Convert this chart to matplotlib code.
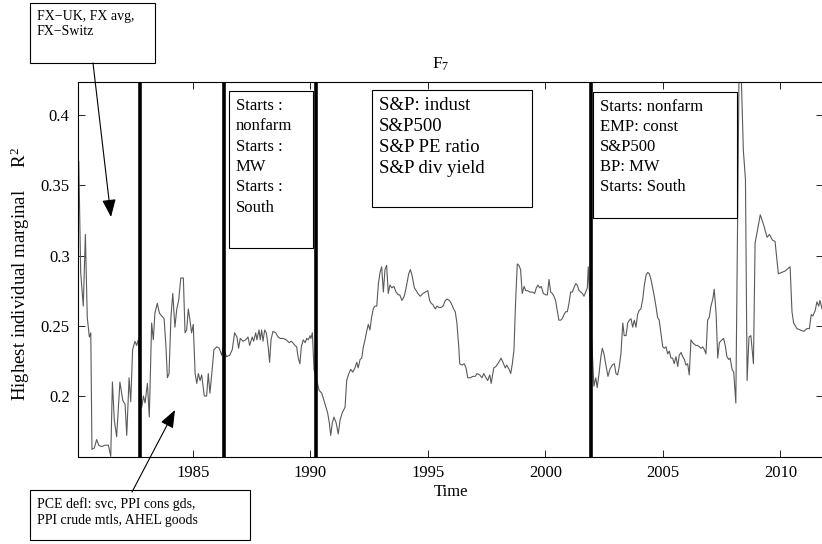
import matplotlib
matplotlib.use("Agg")
import matplotlib.pyplot as plt
from matplotlib.patches import Rectangle, FancyArrowPatch

plt.rcParams['font.family'] = ['Liberation Serif', 'DejaVu Serif']
plt.rcParams['mathtext.fontset'] = 'custom'
plt.rcParams['mathtext.rm'] = 'Liberation Serif'
plt.rcParams['mathtext.it'] = 'Liberation Serif:italic'

# traced series: time (years) and highest marginal R^2
t = [1980.14, 1980.22, 1980.33, 1980.42, 1980.50, 1980.59, 1980.65, 1980.70, 1980.80, 1980.90,
     1980.99, 1981.11, 1981.26, 1981.40, 1981.50, 1981.57, 1981.65, 1981.75, 1981.89, 1982.01,
     1982.11, 1982.18, 1982.28, 1982.35, 1982.43, 1982.53, 1982.60, 1982.67,
     1982.82, 1982.89, 1982.96, 1983.06, 1983.14, 1983.24, 1983.31, 1983.38, 1983.48, 1983.57,
     1983.67, 1983.77, 1983.85, 1983.91, 1983.98, 1984.06, 1984.14, 1984.23, 1984.31, 1984.39,
     1984.48, 1984.59, 1984.66, 1984.73, 1984.80, 1984.87, 1984.94, 1985.01, 1985.09, 1985.16,
     1985.23, 1985.30, 1985.37, 1985.48, 1985.58, 1985.65, 1985.72, 1985.80, 1985.89, 1986.01,
     1986.12, 1986.22, 1986.29,
     1986.42, 1986.56, 1986.67, 1986.77, 1986.87, 1986.94, 1987.01, 1987.13, 1987.24, 1987.34,
     1987.41, 1987.52, 1987.58, 1987.67, 1987.72, 1987.81, 1987.86, 1987.92, 1987.98, 1988.05,
     1988.12, 1988.20, 1988.26, 1988.32, 1988.40, 1988.52, 1988.62, 1988.71, 1988.83, 1988.97,
     1989.09, 1989.18, 1989.24, 1989.34, 1989.41, 1989.48, 1989.55, 1989.61, 1989.69, 1989.77,
     1989.84, 1989.91, 1989.98, 1990.02, 1990.08, 1990.15,
     1990.37, 1990.48, 1990.57, 1990.66, 1990.73, 1990.80, 1990.86, 1990.93, 1991.00, 1991.09,
     1991.18, 1991.26, 1991.35, 1991.47, 1991.54, 1991.61, 1991.71, 1991.80, 1991.89, 1991.97,
     1992.03, 1992.11, 1992.18, 1992.25, 1992.32, 1992.39, 1992.46, 1992.53, 1992.60, 1992.67,
     1992.74, 1992.82, 1992.89, 1992.96, 1993.03, 1993.10, 1993.17, 1993.24, 1993.31, 1993.38,
     1993.46, 1993.55, 1993.64, 1993.74, 1993.80, 1993.89, 1993.99, 1994.08, 1994.18, 1994.25,
     1994.32, 1994.42, 1994.50, 1994.57, 1994.67, 1994.79, 1994.89, 1994.99, 1995.07, 1995.14,
     1995.21, 1995.31, 1995.38, 1995.47, 1995.55, 1995.64, 1995.74, 1995.81, 1995.91, 1995.99,
     1996.09, 1996.16, 1996.23, 1996.31, 1996.35, 1996.45, 1996.54, 1996.62, 1996.69, 1996.80,
     1996.91, 1997.01, 1997.09, 1997.20, 1997.30, 1997.37, 1997.44, 1997.54, 1997.63, 1997.69,
     1997.80, 1997.89, 1998.01, 1998.11, 1998.19, 1998.29, 1998.35, 1998.45, 1998.52, 1998.59,
     1998.66, 1998.73, 1998.80, 1998.87, 1998.94, 1999.01, 1999.09, 1999.16, 1999.23, 1999.34,
     1999.44, 1999.54, 1999.61, 1999.68, 1999.75, 1999.82, 1999.91, 2000.01, 2000.08, 2000.15,
     2000.22, 2000.29, 2000.36, 2000.43, 2000.50, 2000.57, 2000.65, 2000.71, 2000.79, 2000.86,
     2000.93, 2001.00, 2001.07, 2001.14, 2001.21, 2001.29, 2001.35, 2001.43, 2001.50, 2001.57,
     2001.64, 2001.71, 2001.78, 2001.82,
     2002.06, 2002.14, 2002.20, 2002.28, 2002.35, 2002.42, 2002.49, 2002.56, 2002.66, 2002.74,
     2002.84, 2002.93, 2003.00, 2003.07, 2003.14, 2003.21, 2003.29, 2003.35, 2003.43, 2003.50,
     2003.57, 2003.64, 2003.71, 2003.78, 2003.85, 2003.92, 2003.99, 2004.06, 2004.14, 2004.20,
     2004.28, 2004.35, 2004.42, 2004.49, 2004.56, 2004.63, 2004.70, 2004.77, 2004.84, 2004.91,
     2004.99, 2005.06, 2005.13, 2005.20, 2005.27, 2005.34, 2005.41, 2005.48, 2005.55, 2005.63,
     2005.69, 2005.77, 2005.84, 2005.91, 2005.98, 2006.05, 2006.12, 2006.19, 2006.26, 2006.33,
     2006.40, 2006.48, 2006.55, 2006.62, 2006.69, 2006.76, 2006.83, 2006.90, 2006.97, 2007.04,
     2007.12, 2007.18, 2007.26, 2007.33, 2007.40, 2007.51, 2007.58, 2007.65, 2007.72, 2007.80,
     2007.86, 2007.94, 2008.01, 2008.10, 2008.26, 2008.42, 2008.51, 2008.58, 2008.66, 2008.74,
     2008.85, 2008.92, 2009.00, 2009.14, 2009.28, 2009.43, 2009.53, 2009.66, 2009.77, 2009.91,
     2010.06, 2010.20, 2010.41, 2010.49, 2010.56, 2010.70, 2010.84, 2010.99, 2011.13, 2011.23,
     2011.31, 2011.38, 2011.48, 2011.55, 2011.63, 2011.68, 2011.77]
r2 = [0.367, 0.288, 0.264, 0.315, 0.256, 0.242, 0.245, 0.162, 0.163, 0.169,
      0.165, 0.164, 0.165, 0.165, 0.157, 0.210, 0.183, 0.171, 0.210, 0.197,
      0.194, 0.172, 0.213, 0.196, 0.233, 0.239, 0.236, 0.240,
      0.192, 0.200, 0.195, 0.209, 0.185, 0.252, 0.240, 0.259, 0.266, 0.259,
      0.257, 0.255, 0.235, 0.213, 0.216, 0.256, 0.273, 0.249, 0.262, 0.268,
      0.284, 0.284, 0.245, 0.247, 0.262, 0.254, 0.245, 0.251, 0.216, 0.209,
      0.216, 0.211, 0.215, 0.200, 0.200, 0.216, 0.202, 0.216, 0.233, 0.235,
      0.234, 0.229, 0.235,
      0.228, 0.229, 0.233, 0.245, 0.242, 0.234, 0.241, 0.239, 0.240, 0.242,
      0.236, 0.242, 0.239, 0.245, 0.240, 0.247, 0.240, 0.247, 0.239, 0.247,
      0.245, 0.235, 0.224, 0.240, 0.246, 0.245, 0.242, 0.241, 0.241, 0.240,
      0.238, 0.239, 0.238, 0.236, 0.235, 0.227, 0.223, 0.235, 0.240, 0.238,
      0.241, 0.240, 0.243, 0.241, 0.245, 0.219,
      0.204, 0.202, 0.197, 0.192, 0.188, 0.181, 0.172, 0.181, 0.185, 0.181,
      0.173, 0.183, 0.188, 0.192, 0.211, 0.215, 0.219, 0.217, 0.220, 0.224,
      0.220, 0.226, 0.227, 0.235, 0.240, 0.246, 0.251, 0.247, 0.256, 0.262,
      0.264, 0.264, 0.280, 0.288, 0.292, 0.274, 0.290, 0.293, 0.273, 0.279,
      0.277, 0.278, 0.274, 0.272, 0.272, 0.268, 0.271, 0.278, 0.287, 0.290,
      0.286, 0.277, 0.275, 0.273, 0.271, 0.273, 0.274, 0.275, 0.268, 0.266,
      0.265, 0.262, 0.264, 0.263, 0.263, 0.264, 0.268, 0.269, 0.268, 0.266,
      0.262, 0.260, 0.252, 0.235, 0.223, 0.222, 0.223, 0.220, 0.213, 0.213,
      0.214, 0.214, 0.216, 0.215, 0.213, 0.216, 0.214, 0.211, 0.215, 0.209,
      0.220, 0.221, 0.224, 0.227, 0.224, 0.220, 0.222, 0.219, 0.216, 0.223,
      0.233, 0.268, 0.294, 0.293, 0.290, 0.273, 0.278, 0.275, 0.275, 0.274,
      0.274, 0.273, 0.277, 0.279, 0.277, 0.278, 0.273, 0.272, 0.272, 0.283,
      0.274, 0.273, 0.271, 0.268, 0.261, 0.254, 0.254, 0.255, 0.258, 0.260,
      0.260, 0.266, 0.274, 0.274, 0.277, 0.280, 0.279, 0.275, 0.274, 0.273,
      0.271, 0.274, 0.277, 0.292,
      0.207, 0.213, 0.206, 0.216, 0.227, 0.234, 0.230, 0.223, 0.214, 0.219,
      0.222, 0.223, 0.216, 0.215, 0.221, 0.230, 0.252, 0.243, 0.243, 0.252,
      0.254, 0.255, 0.249, 0.254, 0.249, 0.258, 0.261, 0.262, 0.269, 0.278,
      0.286, 0.288, 0.287, 0.283, 0.277, 0.271, 0.264, 0.256, 0.254, 0.245,
      0.235, 0.234, 0.235, 0.230, 0.232, 0.227, 0.227, 0.223, 0.228, 0.221,
      0.229, 0.231, 0.228, 0.226, 0.222, 0.223, 0.215, 0.240, 0.238, 0.237,
      0.236, 0.236, 0.235, 0.234, 0.235, 0.233, 0.230, 0.254, 0.256, 0.264,
      0.269, 0.276, 0.259, 0.227, 0.238, 0.240, 0.241, 0.236, 0.228, 0.226,
      0.227, 0.219, 0.217, 0.195, 0.470, 0.375, 0.354, 0.211, 0.242, 0.243,
      0.223, 0.309, 0.316, 0.329, 0.322, 0.313, 0.315, 0.311, 0.310, 0.287,
      0.288, 0.289, 0.292, 0.260, 0.252, 0.248, 0.247, 0.246, 0.248, 0.248,
      0.258, 0.257, 0.261, 0.267, 0.264, 0.268, 0.262]

breaks = [1982.74, 1986.34, 1990.23, 2001.95]
xticks = [1985, 1990, 1995, 2000, 2005, 2010]
yticks = [0.2, 0.25, 0.3, 0.35, 0.4]
ytick_labels = ['0.2', '0.25', '0.3', '0.35', '0.4']

W, H = 822, 544
fig = plt.figure(figsize=(W / 100, H / 100), dpi=100)


def fx(x):
    return x / W


def fy(y):
    return 1 - y / H


ax = fig.add_axes([fx(78), fy(457), fx(823) - fx(78), fy(82) - fy(457)])
ax.plot(t, r2, color='#5a5a5a', lw=0.8)
for b in breaks:
    ax.axvline(b, color='black', lw=2.6)

ax.set_xlim(1980.106, 2011.81)
ax.set_ylim(0.1566, 0.4235)
ax.set_xticks(xticks)
ax.set_yticks(yticks)
ax.set_yticklabels(ytick_labels)
ax.tick_params(direction='in', top=True, right=True, length=5, width=0.6,
               labelsize=12, pad=6)
for s in ax.spines.values():
    s.set_linewidth(0.8)

ax.set_xlabel('Time', fontsize=12, labelpad=2)
fig.text(fx(441), fy(64), r'$\mathrm{F}_7$', fontsize=12.5, ha='center', va='center')
fig.text(fx(20), fy(274), r'Highest individual marginal     R$^2$', fontsize=13.5,
         rotation=90, ha='center', va='center')

# annotation boxes (x0, y0, x1, y1 in pixels), text, size, line spacing
boxes = [
    ((30, 3, 155, 63), 'FX\u2212UK, FX avg,\nFX\u2212Switz', 10, 1.2),
    ((30, 490, 250, 540), 'PCE defl: svc, PPI cons gds,\nPPI crude mtls, AHEL goods', 10, 1.3),
    ((229, 91, 313, 248), 'Starts :\nnonfarm\nStarts :\nMW\nStarts :\nSouth', 12, 1.36),
    ((372, 90, 532, 207), 'S&P: indust\nS&P500\nS&P PE ratio\nS&P div yield', 13.5, 1.3),
    ((593, 92, 737, 218), 'Starts: nonfarm\nEMP: const\nS&P500\nBP: MW\nStarts: South', 12, 1.33),
]
for (x0, y0, x1, y1), txt, size, ls in boxes:
    fig.patches.append(Rectangle((fx(x0), fy(y1)), fx(x1) - fx(x0), fy(y0) - fy(y1),
                                 transform=fig.transFigure, fill=True, facecolor='white',
                                 edgecolor='black', lw=0.8, zorder=5))
    fig.text(fx(x0 + 7), fy(y0 + 7), txt, fontsize=size, ha='left', va='top',
             linespacing=ls, zorder=6)

for (x0, y0), (x1, y1) in [((93, 63), (111, 217)), ((132, 492), (175, 410))]:
    fig.patches.append(FancyArrowPatch((fx(x0), fy(y0)), (fx(x1), fy(y1)),
                                       transform=fig.transFigure,
                                       arrowstyle='-|>,head_length=0.9,head_width=0.35',
                                       mutation_scale=12, color='black', lw=0.8,
                                       shrinkA=0, shrinkB=0, zorder=7))

fig.savefig('out.png', dpi=100)
